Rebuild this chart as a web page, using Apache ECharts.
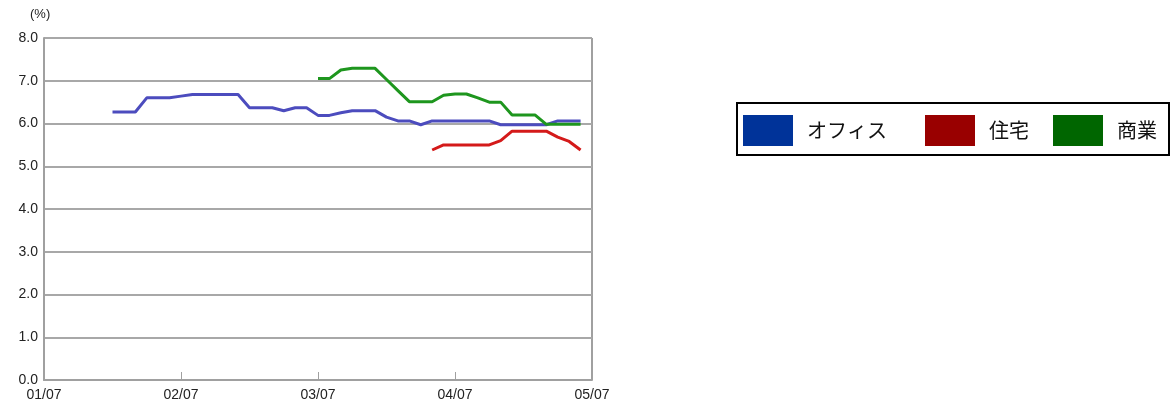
<!DOCTYPE html>
<html>
<head>
<meta charset="utf-8">
<script src="https://cdn.jsdelivr.net/npm/echarts@6/dist/echarts.min.js"></script>
<style>
  html, body { margin: 0; padding: 0; background: #fff; }
  #chart { width: 1174px; height: 407px; }
</style>
</head>
<body>
<div id="chart"></div>
<script>
// Monthly points, 2001/07 .. 2005/07
const months = [
  '01/07','01/08','01/09','01/10','01/11','01/12','02/01','02/02','02/03','02/04','02/05','02/06',
  '02/07','02/08','02/09','02/10','02/11','02/12','03/01','03/02','03/03','03/04','03/05','03/06',
  '03/07','03/08','03/09','03/10','03/11','03/12','04/01','04/02','04/03','04/04','04/05','04/06',
  '04/07','04/08','04/09','04/10','04/11','04/12','05/01','05/02','05/03','05/04','05/05','05/06',
  '05/07'
];

// Office yield (%)
const office = [
  null, null, null, null, null, null, 6.27, 6.27, 6.27, 6.60, 6.60, 6.60,
  6.64, 6.68, 6.68, 6.68, 6.68, 6.68, 6.37, 6.37, 6.37, 6.30, 6.37, 6.37,
  6.19, 6.19, 6.25, 6.30, 6.30, 6.30, 6.15, 6.06, 6.06, 5.97, 6.06, 6.06,
  6.06, 6.06, 6.06, 6.06, 5.97, 5.97, 5.97, 5.97, 5.97, 6.06, 6.06, 6.06,
  null
];

// Residential yield (%)
const residential = [
  null, null, null, null, null, null, null, null, null, null, null, null,
  null, null, null, null, null, null, null, null, null, null, null, null,
  null, null, null, null, null, null, null, null, null, null, 5.38, 5.50,
  5.50, 5.50, 5.50, 5.50, 5.60, 5.82, 5.82, 5.82, 5.82, 5.68, 5.58, 5.38,
  null
];

// Retail yield (%)
const retail = [
  null, null, null, null, null, null, null, null, null, null, null, null,
  null, null, null, null, null, null, null, null, null, null, null, null,
  7.05, 7.05, 7.25, 7.29, 7.29, 7.29, 7.03, 6.77, 6.51, 6.51, 6.51, 6.66,
  6.69, 6.69, 6.60, 6.50, 6.50, 6.20, 6.20, 6.20, 5.98, 5.98, 5.98, 5.98,
  null
];

const seriesNames = ['オフィス', '住宅', '商業'];
const lineColors = ['#4c4cbe', '#d41a1a', '#1e961e'];
const swatchColors = ['#003399', '#990000', '#006600'];
const yTicks = [0, 1, 2, 3, 4, 5, 6, 7, 8];

const chart = echarts.init(document.getElementById('chart'));
const labelFont = '"Liberation Sans", "DejaVu Sans", sans-serif';
const legendFont = '"Noto Sans CJK JP", sans-serif';

// one legend per entry so each swatch can sit at its own x position
const legendLeft = [743, 925, 1053];
const legends = seriesNames.map((n, i) => ({
  left: legendLeft[i], top: 115,
  padding: 0,
  itemWidth: 50, itemHeight: 31,
  icon: 'rect',
  textStyle: { fontSize: 20, color: '#111', fontFamily: legendFont, padding: [0, 0, 0, 9] },
  data: [{ name: n, itemStyle: { color: swatchColors[i] } }]
}));

chart.setOption({
  animation: false,
  backgroundColor: '#fff',
  grid: { left: 44, right: 582, top: 38, bottom: 27, containLabel: false },
  graphic: [{
    type: 'text', left: 30, top: 8,
    style: { text: '(%)', fontSize: 13, fontFamily: labelFont, fill: '#222' }
  }, {
    // right-hand frame edge of the plot
    type: 'line', shape: { x1: 592, y1: 38, x2: 592, y2: 380 },
    style: { stroke: '#a0a0a0', lineWidth: 2 }
  }, {
    // frame around the legend entries
    type: 'rect', shape: { x: 737, y: 103, width: 432, height: 52 },
    style: { fill: 'none', stroke: '#000', lineWidth: 2 }
  }],
  legend: legends,
  xAxis: {
    type: 'category',
    data: months,
    boundaryGap: false,
    axisLine: { lineStyle: { color: '#a0a0a0', width: 2 } },
    axisTick: { inside: true, length: 8, interval: 11, lineStyle: { color: '#a0a0a0', width: 1 } },
    axisLabel: { interval: 11, fontSize: 14, color: '#222', fontFamily: labelFont, margin: 8 },
    splitLine: { show: false }
  },
  yAxis: {
    type: 'value',
    min: yTicks[0], max: yTicks[yTicks.length - 1], interval: 1,
    axisLine: { show: true, lineStyle: { color: '#a0a0a0', width: 2 } },
    axisTick: { show: false },
    axisLabel: {
      fontSize: 14, color: '#222', fontFamily: labelFont, margin: 6,
      formatter: v => v.toFixed(1)
    },
    splitLine: { lineStyle: { color: '#a8a8a8', width: 2 } }
  },
  series: [
    { name: seriesNames[0], data: office },
    { name: seriesNames[1], data: residential },
    { name: seriesNames[2], data: retail }
  ].map((s, i) => ({
    type: 'line',
    name: s.name,
    data: s.data,
    showSymbol: false,
    symbol: 'none',
    itemStyle: { color: lineColors[i] },
    lineStyle: { color: lineColors[i], width: 3 }
  }))
});
</script>
</body>
</html>
